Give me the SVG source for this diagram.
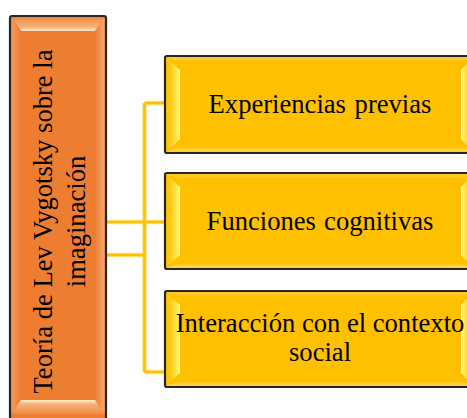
<svg xmlns="http://www.w3.org/2000/svg" width="467" height="418" viewBox="0 0 467 418">
<style>
.t{font-family:"Liberation Serif","Times New Roman",serif;font-size:26.6px;fill:#000}
.ybox{fill:#FFC000;stroke:#262626;stroke-width:2.2}
.obox{fill:#ED7D31;stroke:#262626;stroke-width:2.2}
.cu{fill:none;stroke:#FFE38A;stroke-width:4.5}
.c{fill:none;stroke:#FFC000;stroke-width:2.6}
</style>
<defs>
<linearGradient id="ylb" x1="0" y1="0" x2="1" y2="0">
<stop offset="0" stop-color="#FFC000"/><stop offset="0.7" stop-color="#FFE040"/><stop offset="1" stop-color="#FFFF9A"/>
</linearGradient>
<linearGradient id="yrb" x1="1" y1="0" x2="0" y2="0">
<stop offset="0" stop-color="#FFC000"/><stop offset="0.6" stop-color="#FFE040"/><stop offset="1" stop-color="#FFFF9A"/>
</linearGradient>
<linearGradient id="ytb" x1="0" y1="0" x2="0" y2="1">
<stop offset="0" stop-color="#FFD040"/><stop offset="1" stop-color="#FFC000"/>
</linearGradient>
<linearGradient id="ybb" x1="0" y1="1" x2="0" y2="0">
<stop offset="0" stop-color="#FFD860"/><stop offset="1" stop-color="#FFC000"/>
</linearGradient>
<linearGradient id="otb" x1="0" y1="0" x2="0" y2="1">
<stop offset="0" stop-color="#F08A40"/><stop offset="0.7" stop-color="#F7B27A"/><stop offset="1" stop-color="#FFF0C8"/>
</linearGradient>
<linearGradient id="obb" x1="0" y1="1" x2="0" y2="0">
<stop offset="0" stop-color="#F08A40"/><stop offset="0.7" stop-color="#F7B27A"/><stop offset="1" stop-color="#FFF0C8"/>
</linearGradient>
<linearGradient id="olb" x1="0" y1="0" x2="1" y2="0">
<stop offset="0" stop-color="#F39A5A"/><stop offset="1" stop-color="#ED7D31"/>
</linearGradient>
<linearGradient id="orb" x1="1" y1="0" x2="0" y2="0">
<stop offset="0" stop-color="#F5A874"/><stop offset="1" stop-color="#ED7D31"/>
</linearGradient>
</defs>

<g id="connectors">
<path class="cu" d="M106 222 H165 M106 255 H144.5 M144.5 103 V372 M144.5 103 H165 M144.5 372 H165"/>
<path class="c" d="M106 222 H165 M106 255 H144.5 M144.5 103 V372 M144.5 103 H165 M144.5 372 H165"/>
</g>

<g id="root">
<rect class="obox" x="10" y="16" width="96" height="414" rx="2"/>
<polygon points="11.5,17.5 104.5,17.5 95,31 21,31" fill="url(#otb)"/>
<polygon points="11.5,17.5 21,31 21,400 11.5,414" fill="url(#olb)"/>
<polygon points="104.5,17.5 95,31 95,400 104.5,414" fill="url(#orb)"/>
<polygon points="11.5,414 104.5,414 95,400 21,400" fill="url(#obb)"/>
<text class="t" transform="translate(52,221.5) rotate(-90)" text-anchor="middle">Teoría de Lev Vygotsky sobre la</text>
<text class="t" transform="translate(85,221.5) rotate(-90)" text-anchor="middle">imaginación</text>
</g>

<g id="n1">
<rect class="ybox" x="165" y="56" width="310" height="97" rx="2"/>
<polygon points="166.5,57.5 473,57.5 462,62 180,62" fill="url(#ytb)"/>
<polygon points="166.5,151.5 473,151.5 462,147 180,147" fill="url(#ybb)"/>
<polygon points="166.5,57.5 180,70 180,139 166.5,151.5" fill="url(#ylb)"/>
<polygon points="473,57.5 461,70 461,139 473,151.5" fill="url(#yrb)"/>
<text class="t" x="320" y="113" text-anchor="middle" word-spacing="2">Experiencias previas</text>
</g>

<g id="n2">
<rect class="ybox" x="165" y="173" width="310" height="96" rx="2"/>
<polygon points="166.5,174.5 473,174.5 462,179 180,179" fill="url(#ytb)"/>
<polygon points="166.5,267.5 473,267.5 462,263 180,263" fill="url(#ybb)"/>
<polygon points="166.5,174.5 180,187 180,255 166.5,267.5" fill="url(#ylb)"/>
<polygon points="473,174.5 461,187 461,255 473,267.5" fill="url(#yrb)"/>
<text class="t" x="320" y="230" text-anchor="middle" word-spacing="1.5">Funciones cognitivas</text>
</g>

<g id="n3">
<rect class="ybox" x="165" y="291" width="310" height="96" rx="2"/>
<polygon points="166.5,292.5 473,292.5 462,297 180,297" fill="url(#ytb)"/>
<polygon points="166.5,385.5 473,385.5 462,381 180,381" fill="url(#ybb)"/>
<polygon points="166.5,292.5 180,305 180,373 166.5,385.5" fill="url(#ylb)"/>
<polygon points="473,292.5 461,305 461,373 473,385.5" fill="url(#yrb)"/>
<text class="t" x="320" y="332" text-anchor="middle">Interacción con el contexto</text>
<text class="t" x="320" y="361" text-anchor="middle">social</text>
</g>
</svg>
